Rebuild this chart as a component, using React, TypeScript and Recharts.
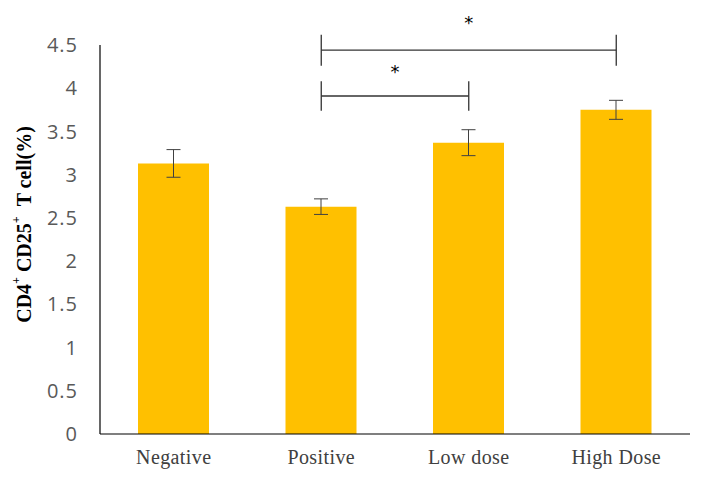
import { Bar, BarChart, ErrorBar, ReferenceLine, XAxis, YAxis } from 'recharts';

const groups = ['Negative', 'Positive', 'Low dose', 'High Dose'];
const cellPercent = [3.13, 2.63, 3.37, 3.75];
const cellError = [0.16, 0.09, 0.15, 0.11];
const yTicks = [0, 0.5, 1, 1.5, 2, 2.5, 3, 3.5, 4, 4.5];

// significance brackets: from / to group, height of bar, tick half-length
const sigFrom = ['Positive', 'Positive'];
const sigTo = ['High Dose', 'Low dose'];
const sigLevel = [4.44, 3.91];
const sigTick = [0.18, 0.17];
const sigLabelOffset = [21, 18];

const data = groups.map((g, i) => ({ group: g, value: cellPercent[i], err: cellError[i] }));

const YLabel = (props: any) => {
  const vb = props.viewBox || { x: 0, y: 0, height: 0 };
  const cx = 24;
  const cy = vb.y + vb.height / 2 - 15;
  return (
    <text
      x={cx}
      y={cy}
      transform={`rotate(-90, ${cx}, ${cy})`}
      textAnchor="middle"
      dominantBaseline="central"
      fontFamily="'Liberation Serif', 'Times New Roman', serif"
      fontWeight="bold"
      fontSize={20}
      fill="#000"
    >
      <tspan>CD4</tspan>
      <tspan fontSize={12} dy={-8}>+</tspan>
      <tspan dy={8} dx={5}>CD25</tspan>
      <tspan fontSize={12} dy={-8}>+</tspan>
      <tspan dy={8} dx={10}>T cell(%)</tspan>
    </text>
  );
};

export default function App() {
  return (
    <div style={{ width: 704, height: 478, background: '#fff' }}>
      <style>{`body{margin:0}`}</style>
      <BarChart
        width={704}
        height={478}
        data={data}
        margin={{ top: 45, right: 14, bottom: 0, left: 0 }}
      >
        <XAxis
          dataKey="group"
          height={44}
          tickLine={false}
          axisLine={{ stroke: '#000', strokeWidth: 1.2 }}
          tick={{ fontSize: 20, fill: '#404040', fontFamily: "'Liberation Serif', 'Times New Roman', serif", letterSpacing: 0.4 }}
          tickMargin={10}
        />
        <YAxis
          width={100}
          domain={[0, 4.5]}
          ticks={yTicks}
          interval={0}
          tickLine={false}
          axisLine={{ stroke: '#000', strokeWidth: 1.2 }}
          tick={{ fontSize: 20, fill: '#595959', fontFamily: "'Open Sans', 'Noto Sans', sans-serif", letterSpacing: 1 }}
          tickMargin={16}
          label={{ content: YLabel }}
        />
        <Bar dataKey="value" fill="#FFC000" barSize={71} isAnimationActive={false}>
          <ErrorBar dataKey="err" width={7} stroke="#404040" strokeWidth={1} direction="y" />
        </Bar>
        {sigFrom.map((from, i) => (
          <ReferenceLine
            key={`h${i}`}
            ifOverflow="visible"
            segment={[
              { x: from, y: sigLevel[i] },
              { x: sigTo[i], y: sigLevel[i] },
            ]}
            stroke="#333"
            strokeWidth={1.3}
            label={{
              value: '*',
              position: 'top',
              offset: sigLabelOffset[i],
              fontSize: 18,
              fill: '#000',
              fontFamily: "'DejaVu Sans', sans-serif",
            }}
          />
        ))}
        {sigFrom.map((from, i) => (
          <ReferenceLine
            key={`l${i}`}
            ifOverflow="visible"
            segment={[
              { x: from, y: sigLevel[i] + sigTick[i] },
              { x: from, y: sigLevel[i] - sigTick[i] },
            ]}
            stroke="#333"
            strokeWidth={1.3}
          />
        ))}
        {sigTo.map((to, i) => (
          <ReferenceLine
            key={`r${i}`}
            ifOverflow="visible"
            segment={[
              { x: to, y: sigLevel[i] + sigTick[i] },
              { x: to, y: sigLevel[i] - sigTick[i] },
            ]}
            stroke="#333"
            strokeWidth={1.3}
          />
        ))}
      </BarChart>
    </div>
  );
}
